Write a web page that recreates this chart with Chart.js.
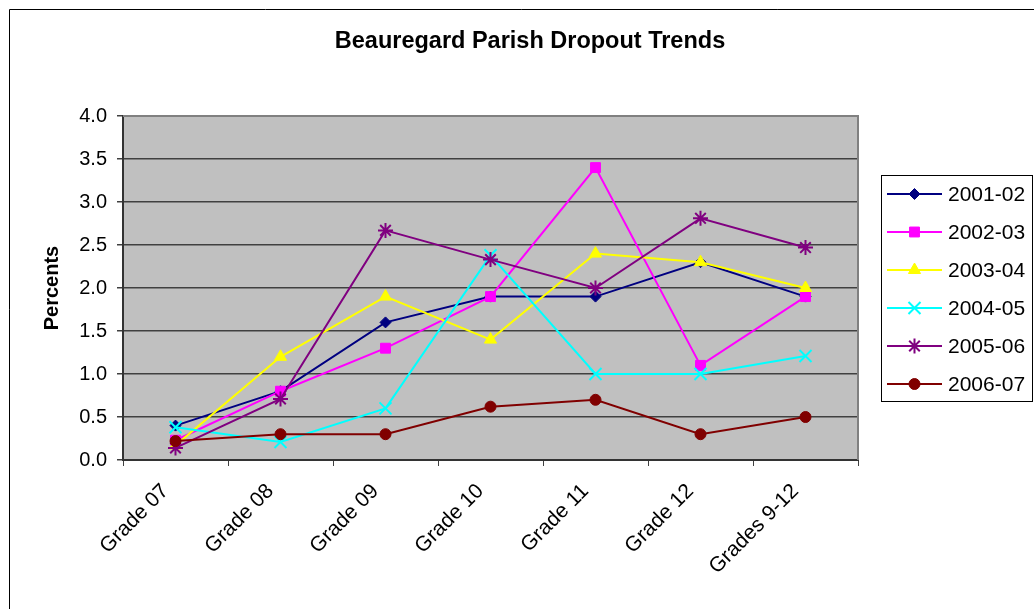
<!DOCTYPE html>
<html>
<head>
<meta charset="utf-8">
<title>Beauregard Parish Dropout Trends</title>
<script src="https://cdn.jsdelivr.net/npm/chart.js@4/dist/chart.umd.min.js"></script>
<style>
  html, body { margin: 0; padding: 0; background: #fff; }
  #chartCanvas { display: block; }
</style>
</head>
<body>
<canvas id="chartCanvas" width="1034" height="609"></canvas>
<script>
const chartTitle = "Beauregard Parish Dropout Trends";
const grades = ["Grade 07", "Grade 08", "Grade 09", "Grade 10", "Grade 11", "Grade 12", "Grades 9-12"];
const years = ["2001-02", "2002-03", "2003-04", "2004-05", "2005-06", "2006-07"];

// percents
const y2001 = [0.4, 0.8, 1.6, 1.9, 1.9, 2.3, 1.9];
const y2002 = [0.23, 0.8, 1.3, 1.9, 3.4, 1.1, 1.9];
const y2003 = [0.17, 1.2, 1.9, 1.4, 2.4, 2.3, 2.0];
const y2004 = [0.38, 0.21, 0.6, 2.38, 1.0, 1.0, 1.21];
const y2005 = [0.14, 0.71, 2.67, 2.33, 2.0, 2.81, 2.47];
const y2006 = [0.22, 0.3, 0.3, 0.62, 0.7, 0.3, 0.5];

const seriesValues = [y2001, y2002, y2003, y2004, y2005, y2006];
const seriesColors = ["#000080", "#FF00FF", "#FFFF00", "#00FFFF", "#800080", "#800000"];
const seriesMarkers = ["rectRot", "rect", "triangle", "crossRot", "star", "circle"];
const markerRadius = [5.5, 7, 7, 8.5, 7.5, 5.5];

const FONT = "Arial, 'Liberation Sans', sans-serif";

const datasets = years.map((name, i) => ({
    label: name,
    data: seriesValues[i],
    borderColor: seriesColors[i],
    backgroundColor: seriesColors[i],
    borderWidth: 2,
    tension: 0,
    pointStyle: seriesMarkers[i],
    pointRadius: markerRadius[i],
    pointBorderWidth: (seriesMarkers[i] === "crossRot" || seriesMarkers[i] === "star") ? 2 : 1,
    pointBackgroundColor: seriesColors[i],
    pointBorderColor: seriesColors[i],
    order: years.length - 1 - i
}));

// white page, outer frame, grey plot area
const backdrop = {
    id: "backdrop",
    beforeDraw(chart) {
        const ctx = chart.ctx;
        const a = chart.chartArea;
        ctx.save();
        ctx.fillStyle = "#fff";
        ctx.fillRect(0, 0, chart.width, chart.height);
        ctx.strokeStyle = "#000";
        ctx.lineWidth = 1;
        ctx.beginPath();
        ctx.moveTo(9.5, chart.height);
        ctx.lineTo(9.5, 9.5);
        ctx.lineTo(chart.width, 9.5);
        ctx.stroke();
        ctx.fillStyle = "#C0C0C0";
        ctx.fillRect(a.left, a.top, a.right - a.left, a.bottom - a.top);
        ctx.restore();
    },
    afterDraw(chart) {
        const ctx = chart.ctx;
        const a = chart.chartArea;
        ctx.save();
        // top and right edge of plot area
        ctx.strokeStyle = "#808080";
        ctx.lineWidth = 2;
        ctx.beginPath();
        ctx.moveTo(a.left, a.top);
        ctx.lineTo(a.right, a.top);
        ctx.lineTo(a.right, a.bottom);
        ctx.stroke();

        // title
        ctx.fillStyle = "#000";
        ctx.font = "bold 23.5px " + FONT;
        ctx.textAlign = "center";
        ctx.textBaseline = "middle";
        ctx.fillText(chartTitle, 530, 42);

        // legend box
        const lx = 881, ly = 175, lw = 152, lh = 227;
        ctx.fillStyle = "#fff";
        ctx.fillRect(lx, ly, lw, lh);
        ctx.strokeStyle = "#000";
        ctx.lineWidth = 1;
        ctx.strokeRect(lx + 0.5, ly + 0.5, lw - 1, lh - 1);
        ctx.font = "21px " + FONT;
        ctx.textAlign = "left";
        chart.data.datasets.forEach((ds, i) => {
            const y = 194 + i * 38;
            ctx.strokeStyle = ds.borderColor;
            ctx.lineWidth = 2;
            ctx.beginPath();
            ctx.moveTo(887, y);
            ctx.lineTo(942, y);
            ctx.stroke();
            const opts = {
                pointStyle: ds.pointStyle,
                radius: ds.pointRadius,
                rotation: 0,
                borderWidth: ds.pointBorderWidth
            };
            ctx.fillStyle = ds.backgroundColor;
            ctx.strokeStyle = ds.borderColor;
            ctx.lineWidth = ds.pointBorderWidth;
            Chart.helpers.drawPoint(ctx, opts, 914.5, y);
            ctx.fillStyle = "#000";
            ctx.fillText(ds.label, 948, y + 1);
        });
        ctx.restore();
    }
};

const chart = new Chart(document.getElementById("chartCanvas").getContext("2d"), {
    type: "line",
    data: { labels: grades, datasets: datasets },
    options: {
        responsive: false,
        animation: false,
        layout: { padding: { left: 9, top: 116, right: 176, bottom: 0 } },
        plugins: {
            legend: { display: false },
            title: { display: false },
            tooltip: { enabled: false }
        },
        scales: {
            x: {
                offset: true,
                grid: {
                    offset: true,
                    drawOnChartArea: false,
                    color: "#404040",
                    tickLength: 6
                },
                border: { color: "#333", width: 2 },
                ticks: {
                    color: "#000",
                    font: { family: FONT, size: 21 },
                    minRotation: 45,
                    maxRotation: 45,
                    padding: 13,
                    labelOffset: -10,
                    autoSkip: false
                },
                afterFit(scale) { scale.height = 149; }
            },
            y: {
                min: 0,
                max: 4,
                grid: { color: "#404040", lineWidth: 1.5, tickLength: 6 },
                border: { color: "#333", width: 2 },
                ticks: {
                    stepSize: 0.5,
                    color: "#000",
                    padding: 10,
                    font: { family: FONT, size: 20 },
                    callback: v => v.toFixed(1)
                },
                title: {
                    display: true,
                    text: "Percents",
                    color: "#000",
                    font: { family: FONT, size: 20, weight: "bold" },
                    padding: { top: 31, bottom: 0 }
                },
                afterFit(scale) { scale.width = 114; }
            }
        }
    },
    plugins: [backdrop]
});
</script>
</body>
</html>
